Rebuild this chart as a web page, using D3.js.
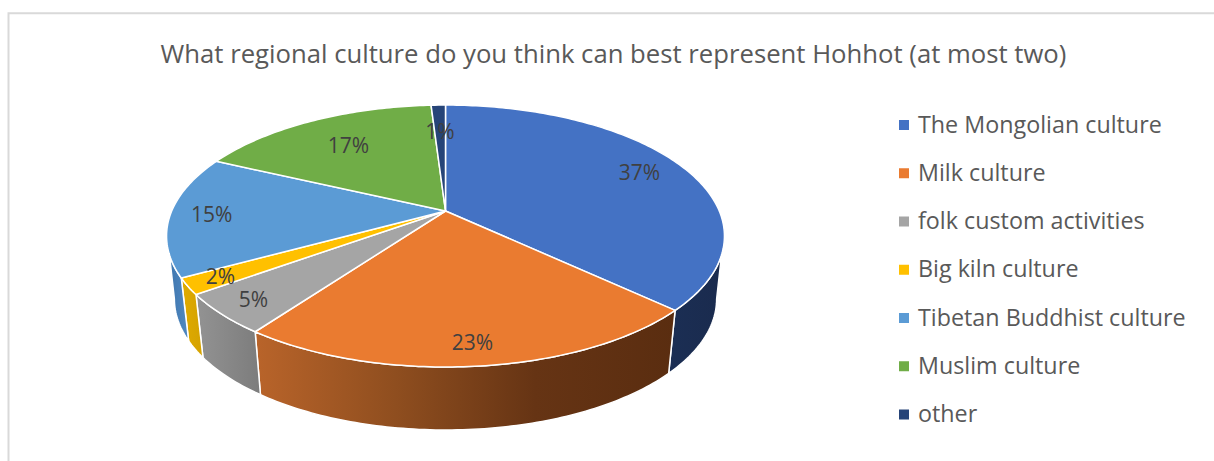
<!DOCTYPE html>
<html>
<head>
<meta charset="utf-8">
<script src="https://cdn.jsdelivr.net/npm/d3@7/dist/d3.min.js"></script>
<style>
  html, body { margin: 0; background: #fff; }
  svg { display: block; }
  text { font-family: "Open Sans", sans-serif; }
</style>
</head>
<body>
<svg id="chart" width="1214" height="461"></svg>
<script>
// Survey answers, in percent
const categories = ["The Mongolian culture", "Milk culture", "folk custom activities",
  "Big kiln culture", "Tibetan Buddhist culture", "Muslim culture", "other"];
const shares = [37, 23, 5, 2, 15, 17, 1];
const topColors = ["#4472c4", "#ea7b30", "#a5a5a5", "#ffc000", "#5b9bd5", "#70ad47", "#264478"];
// Rim shading per slice, left to right
const rimStops = [
  ["#1b2e54", "#1a2b4e"],
  ["#b9642a", "#8f4e1f", "#663414", "#5a2d10"],
  ["#939393", "#7c7c7c"],
  ["#e0ab00", "#d4a200"],
  ["#3f76ae", "#5089c2"],
  ["#70ad47", "#70ad47"],
  ["#264478", "#264478"]
];
const labelRadius = [0.82, 0.87, 0.875, 0.885, 0.85, 0.70, 0.72];
const chartTitle = "What regional culture do you think can best represent Hohhot (at most two)";

const svg = d3.select("#chart");
const apex = { x: 445.5, y: 211 };
const tilt = { a: 273.8, b: 126.2, k: 0.191 };   // perspective of the disc
const rim = { dy: 63, shrink: 0.972 };
const deg = Math.PI / 180;
// The visible rim: where it leaves the top edge, and where its lower edge turns away
const rimTop = [109 * deg, 251 * deg], rimBottom = [101 * deg, 259 * deg];

// Projects a point of the unit disc (angle clockwise from north) on the page
function project(angle, r) {
  const u = Math.sin(angle) * r, v = -Math.cos(angle) * r;
  const s = 1 / (1 - tilt.k * v);
  return [apex.x + tilt.a * u * s, apex.y + tilt.b * v * s];
}
const projectRim = (angle) => {
  const [x, y] = project(angle, 1);
  return [apex.x + (x - apex.x) * rim.shrink, y + rim.dy];
};

const slices = d3.pie().sort(null).value(d => d)(shares);
const line = d3.line();
const sample = (a0, a1) => d3.range(0, 1.0001, 1 / Math.max(2, Math.ceil((a1 - a0) * 60)))
  .map(t => a0 + (a1 - a0) * t);

const defs = svg.append("defs");

// Chart frame: top and left edges only
svg.append("path")
  .attr("d", "M8.5,461V13.3H1214")
  .attr("fill", "none").attr("stroke", "#d9d9d9").attr("stroke-width", 2);

svg.append("text")
  .attr("x", 613.5).attr("y", 63)
  .attr("text-anchor", "middle")
  .attr("font-size", 25.7).attr("fill", "#595959")
  .text(chartTitle);

// Rim of the disc: only the part facing the viewer
const rimGroup = svg.append("g");
slices.forEach((d, i) => {
  const top0 = Math.max(d.startAngle, rimTop[0]), top1 = Math.min(d.endAngle, rimTop[1]);
  const low0 = Math.max(d.startAngle, rimBottom[0]), low1 = Math.min(d.endAngle, rimBottom[1]);
  if (low1 <= low0) return;
  const topEdge = top1 > top0 ? sample(top0, top1).map(a => project(a, 1)) : [];
  const lowEdge = sample(low0, low1).reverse().map(projectRim);
  const pts = topEdge.concat(lowEdge);
  const xs = pts.map(p => p[0]);
  const grad = defs.append("linearGradient")
    .attr("id", "rim" + i).attr("gradientUnits", "userSpaceOnUse")
    .attr("x1", d3.min(xs)).attr("x2", d3.max(xs)).attr("y1", 0).attr("y2", 0);
  rimStops[i].forEach((c, j, all) => grad.append("stop")
    .attr("offset", j / (all.length - 1)).attr("stop-color", c));
  rimGroup.append("path")
    .attr("d", line(pts) + "Z")
    .attr("fill", `url(#rim${i})`)
    .attr("stroke", "#fff").attr("stroke-width", 1.5).attr("stroke-linejoin", "round");
});

// Top face
svg.append("g").selectAll("path").data(slices).join("path")
  .attr("d", d => line([[apex.x, apex.y]].concat(sample(d.startAngle, d.endAngle).map(a => project(a, 1)))) + "Z")
  .attr("fill", (d, i) => topColors[i])
  .attr("stroke", "#fff").attr("stroke-width", 1.5).attr("stroke-linejoin", "round");

// Percent labels
svg.append("g").selectAll("text").data(slices).join("text")
  .each(function (d, i) {
    const [x, y] = project((d.startAngle + d.endAngle) / 2, labelRadius[i]);
    d3.select(this).attr("x", x).attr("y", y);
  })
  .attr("text-anchor", "middle").attr("dy", "0.36em")
  .attr("font-size", 21).attr("fill", "#404040")
  .text(d => d.value + "%");

// Legend
const legendY = d3.scalePoint().domain(categories).range([125, 414.5]);
const legend = svg.append("g").selectAll("g").data(categories).join("g")
  .attr("transform", d => `translate(0,${legendY(d)})`);
legend.append("rect")
  .attr("x", 899).attr("y", -5).attr("width", 10).attr("height", 10)
  .attr("fill", (d, i) => topColors[i]);
legend.append("text")
  .attr("x", 918).attr("y", 7.5)
  .attr("font-size", 23.3).attr("fill", "#595959")
  .text(d => d);
</script>
</body>
</html>
